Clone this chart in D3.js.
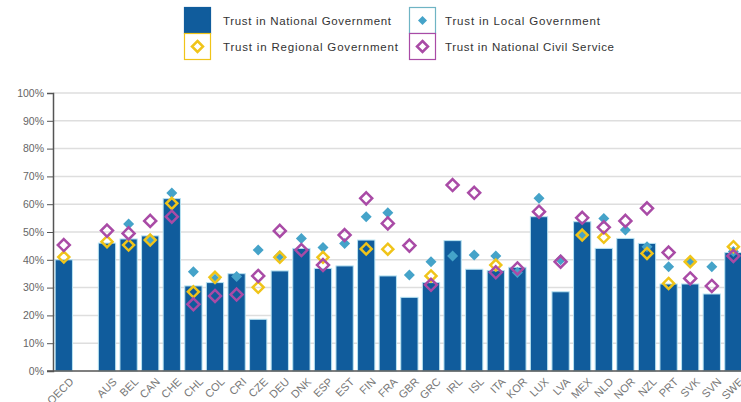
<!DOCTYPE html>
<html>
<head>
  <meta charset="utf-8">
  <title>Trust in government</title>
  <style>
    body { margin: 0; background: #fff; }
    svg { display: block; font-family: "Liberation Sans", Arial, sans-serif; }
  </style>
</head>
<body>
  <svg width="741" height="402"></svg>

  <script src="https://d3js.org/d3.v7.min.js"></script>
  <script>

  // countries, with one empty slot after the OECD average
  var countries = ["OECD", "", "AUS", "BEL", "CAN", "CHE", "CHL", "COL", "CRI", "CZE", "DEU", "DNK",
    "ESP", "EST", "FIN", "FRA", "GBR", "GRC", "IRL", "ISL", "ITA", "KOR", "LUX", "LVA",
    "MEX", "NLD", "NOR", "NZL", "PRT", "SVK", "SVN", "SWE"];

  var national = [40, null, 46, 47.5, 48.6, 62, 30.6, 31.8, 35, 18.6, 36, 44.1,
    36.9, 37.8, 47.1, 34.2, 26.5, 31.8, 46.9, 36.6, 36.1, 37.3, 55.5, 28.5,
    53.7, 44.1, 47.7, 45.9, 31.3, 31.3, 27.7, 42.6];

  var local = [null, null, null, 52.9, 47.5, 64, 35.7, 33, 34, 43.5, 41.5, 47.7,
    44.4, 45.9, 55.5, 56.9, 34.5, 39.3, 41.4, 41.7, 41.4, 35.4, 62.1, 40,
    49, 54.9, 50.7, 44.7, 37.5, 39.5, 37.5, 43];

  var regional = [41, null, 46.5, 45.3, 47.1, 60.3, 28.5, 33.7, null, 30.1, 40.9, null,
    40.9, null, 43.9, 43.8, null, 34.2, null, null, 38.1, null, null, null,
    48.9, 48.1, null, 42.3, 31.5, 39.3, null, 44.7];

  var civil = [45.3, null, 50.5, 49.5, 54, 55.5, 24, 27, 27.5, 34.2, 50.4, 43.5,
    38.1, 48.9, 62.1, 53.1, 45.1, 31, 66.9, 64.1, 35.5, 36.9, 57.3, 39.3,
    55.1, 51.7, 54, 58.5, 42.6, 33.3, 30.6, 41.4];

  var yTicks = [0, 10, 20, 30, 40, 50, 60, 70, 80, 90, 100];

  var legendLabels = ["Trust in National Government", "Trust in Local Government",
    "Trust in Regional Government", "Trust in National Civil Service"];

  var blue = "#105c9c",
      cyan = "#45a3c9",
      yellow = "#f0c419",
      purple = "#a94ba6";

  var svg = d3.select("svg");

  var x = d3.scaleBand()
      .domain(countries)
      .range([53, 53 + countries.length * 21.6])
      .paddingInner(0.2)
      .paddingOuter(0.1);

  var y = d3.scaleLinear()
      .domain([0, 100])
      .range([371, 93]);

  // grid
  svg.append("g")
    .selectAll("line")
    .data(yTicks.slice(1))
    .join("line")
      .attr("x1", 53)
      .attr("x2", 741)
      .attr("y1", function(d) { return y(d); })
      .attr("y2", function(d) { return y(d); })
      .attr("stroke", "#dedede")
      .attr("stroke-width", 1.5);

  // y axis
  var yAxis = svg.append("g")
      .attr("transform", "translate(53,0)")
      .call(d3.axisLeft(y).tickValues(yTicks).tickSize(6).tickFormat(function(d) { return d + "%"; }));
  yAxis.select(".domain").attr("stroke", "#555").attr("stroke-width", 1.5);
  yAxis.selectAll(".tick line").attr("stroke", "#555");
  yAxis.selectAll(".tick text")
      .attr("fill", "#666")
      .attr("font-size", 10.5)
      .attr("font-family", "\"Liberation Sans\", Arial, sans-serif")
      .attr("x", -9);

  // bars
  var rows = countries.map(function(c, i) {
    return { c: c, nat: national[i], loc: local[i], reg: regional[i], civ: civil[i] };
  });

  svg.append("g")
    .selectAll("rect")
    .data(rows.filter(function(d) { return d.nat != null; }))
    .join("rect")
      .attr("x", function(d) { return x(d.c); })
      .attr("width", x.bandwidth())
      .attr("y", function(d) { return y(d.nat); })
      .attr("height", function(d) { return y(0) - y(d.nat); })
      .attr("fill", blue)
      .attr("stroke", "#b8e3f2")
      .attr("stroke-width", 1);

  // baseline
  svg.append("line")
      .attr("x1", 47).attr("x2", 741)
      .attr("y1", y(0)).attr("y2", y(0))
      .attr("stroke", "#555")
      .attr("stroke-width", 1.5);

  function diamond(r) {
    return "M0," + (-r) + "L" + r + ",0L0," + r + "L" + (-r) + ",0Z";
  }

  function markers(key, r, fill, stroke, sw) {
    svg.append("g")
      .selectAll("path")
      .data(rows.filter(function(d) { return d[key] != null; }))
      .join("path")
        .attr("transform", function(d) {
          return "translate(" + (x(d.c) + x.bandwidth() / 2) + "," + y(d[key]) + ")";
        })
        .attr("d", diamond(r))
        .attr("fill", fill)
        .attr("stroke", stroke)
        .attr("stroke-width", sw);
  }

  markers("loc", 5.5, cyan, "none", 0);
  markers("reg", 5.5, "none", yellow, 2.5);
  markers("civ", 6, "none", purple, 2.5);

  // x labels
  svg.append("g")
    .selectAll("text")
    .data(countries)
    .join("text")
      .attr("transform", function(d) {
        return "translate(" + (x(d) + x.bandwidth() / 2 + 5) + ",377) rotate(-45)";
      })
      .attr("text-anchor", "end")
      .attr("dy", "0.7em")
      .attr("font-size", 11)
      .attr("fill", "#777")
      .text(function(d) { return d; });

  // legend
  var legend = svg.append("g");
  var cells = [
    { x: 184, y: 7, label: legendLabels[0], type: "bar" },
    { x: 409, y: 7, label: legendLabels[1], type: "loc" },
    { x: 184, y: 33, label: legendLabels[2], type: "reg" },
    { x: 409, y: 33, label: legendLabels[3], type: "civ" }
  ];
  var boxColor = { bar: blue, loc: "#6fb4c4", reg: yellow, civ: purple };

  cells.forEach(function(c) {
    var g = legend.append("g").attr("transform", "translate(" + c.x + "," + c.y + ")");
    g.append("rect")
        .attr("x", 0.5).attr("y", 0.5)
        .attr("width", 26).attr("height", 26)
        .attr("fill", c.type === "bar" ? blue : "#fff")
        .attr("stroke", boxColor[c.type])
        .attr("stroke-width", 1.2);
    if (c.type === "loc") {
      g.append("path").attr("transform", "translate(13.5,13.5)").attr("d", diamond(4.5)).attr("fill", cyan);
    } else if (c.type === "reg") {
      g.append("path").attr("transform", "translate(13.5,13.5)").attr("d", diamond(5.5))
          .attr("fill", "none").attr("stroke", yellow).attr("stroke-width", 2.5);
    } else if (c.type === "civ") {
      g.append("path").attr("transform", "translate(13.5,13.5)").attr("d", diamond(5.5))
          .attr("fill", "none").attr("stroke", purple).attr("stroke-width", 2.5);
    }
    g.append("text")
        .attr("x", c.type === "bar" || c.type === "reg" ? 39 : 36)
        .attr("y", 14)
        .attr("dy", "0.35em")
        .attr("font-size", 11.5)
        .attr("fill", "#333")
        .attr("textLength", c.type === "civ" ? 169 : c.type === "loc" ? 155 : c.type === "bar" ? 168 : 175)
        .text(c.label);
  });

  </script>
</body>
</html>
